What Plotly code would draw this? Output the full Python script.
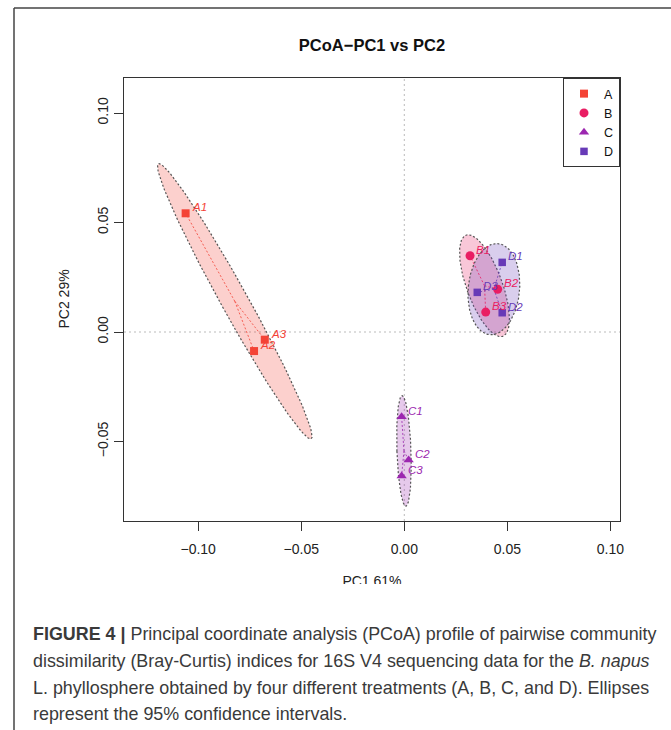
import numpy as np
import plotly.graph_objects as go

# ---------------- data ----------------
groups = ["A", "B", "C", "D"]

A_samples = ["A1", "A2", "A3"]
A_pc1 = [-0.1061, -0.0729, -0.0677]
A_pc2 = [0.0542, -0.0087, -0.0035]

B_samples = ["B1", "B2", "B3"]
B_pc1 = [0.0319, 0.0453, 0.0395]
B_pc2 = [0.0348, 0.0195, 0.0091]

C_samples = ["C1", "C2", "C3"]
C_pc1 = [-0.0013, 0.0021, -0.0013]
C_pc2 = [-0.0387, -0.0584, -0.0658]

D_samples = ["D1", "D2", "D3"]
D_pc1 = [0.0475, 0.0475, 0.0354]
D_pc2 = [0.0318, 0.0088, 0.0181]

x_ticks = [-0.10, -0.05, 0.00, 0.05, 0.10]
y_ticks = [-0.05, 0.00, 0.05, 0.10]

chart_title = "PCoA\u2212PC1 vs PC2"
x_title = "PC1 61%"
y_title = "PC2 29%"
caption_lines = [
    "<b>FIGURE 4 |</b> Principal coordinate analysis (PCoA) profile of pairwise community",
    "dissimilarity (Bray-Curtis) indices for 16S V4 sequencing data for the <i>B. napus</i>",
    "L. phyllosphere obtained by four different treatments (A, B, C, and D). Ellipses",
    "represent the 95% confidence intervals.",
]

# ---------------- styles ----------------
colors = {"A": "#F44336", "B": "#E91E63", "C": "#9C27B0", "D": "#673AB7"}
symbols = {"A": "square", "B": "circle", "C": "triangle-up", "D": "square"}
msizes = {"A": 8, "B": 9, "C": 9, "D": 7.5}
ELLIPSE_SCALE = 1.8
FONT = "Liberation Sans, Arial, sans-serif"

data = {
    "A": (A_samples, A_pc1, A_pc2),
    "B": (B_samples, B_pc1, B_pc2),
    "C": (C_samples, C_pc1, C_pc2),
    "D": (D_samples, D_pc1, D_pc2),
}

W, H = 671, 730
ML, MR, MT, MB = 124, 51, 78, 130
PLOT_BOTTOM_PX = 521


def px2x(px):
    return (px - ML) / (W - ML - MR)


def px2y(py):
    return (H - MB - py) / (H - MT - MB)


def hex_rgba(h, a):
    h = h.lstrip("#")
    return "rgba(%d,%d,%d,%.3f)" % (int(h[0:2], 16), int(h[2:4], 16), int(h[4:6], 16), a)


def ellipse_path(xs, ys, scale=ELLIPSE_SCALE, n=160):
    pts = np.column_stack([xs, ys])
    c = pts.mean(axis=0)
    cov = np.cov(pts.T)
    vals, vecs = np.linalg.eigh(cov)
    vals = np.clip(vals, 0, None)
    t = np.linspace(0, 2 * np.pi, n)
    circ = np.vstack([np.cos(t), np.sin(t)])
    e = (vecs @ np.diag(np.sqrt(vals)) @ circ) * scale
    return c[0] + e[0], c[1] + e[1]


fig = go.Figure()

# ellipses
for g in groups:
    _, xs, ys = data[g]
    ex, ey = ellipse_path(xs, ys)
    fig.add_trace(go.Scatter(
        x=ex, y=ey, mode="lines", fill="toself",
        fillcolor=hex_rgba(colors[g], 0.25),
        line=dict(color="#555555", width=1.2, dash="2px,2px"),
        hoverinfo="skip", showlegend=False))

# spiders (centroid to each sample)
for g in groups:
    _, xs, ys = data[g]
    cx, cy = float(np.mean(xs)), float(np.mean(ys))
    sx, sy = [], []
    for x, y in zip(xs, ys):
        sx += [cx, x, None]
        sy += [cy, y, None]
    fig.add_trace(go.Scatter(
        x=sx, y=sy, mode="lines",
        line=dict(color=colors[g], width=1, dash="2px,2px"),
        opacity=0.8, hoverinfo="skip", showlegend=False))

# points
for g in groups:
    names, xs, ys = data[g]
    fig.add_trace(go.Scatter(
        x=xs, y=ys, mode="markers", name=g, text=names,
        marker=dict(color=colors[g], symbol=symbols[g], size=msizes[g], line=dict(width=0)),
        showlegend=True))

# sample labels
annotations = []
for g in groups:
    names, xs, ys = data[g]
    for n_, x, y in zip(names, xs, ys):
        annotations.append(dict(
            x=x, y=y, xref="x", yref="y", text="<i>%s</i>" % n_, showarrow=False,
            xanchor="left", yanchor="middle", xshift=4, yshift=6,
            font=dict(family=FONT, size=11.5, color=colors[g])))

# clipped x-axis title (reference shows it cut by the caption area)
X2_BOTTOM_PX, X2_TOP_PX = 584, 566
fig.add_trace(go.Scatter(
    x=[0.5], y=[(X2_BOTTOM_PX - 582) / (X2_BOTTOM_PX - X2_TOP_PX)], mode="text",
    text=[x_title], textposition="middle center",
    textfont=dict(family=FONT, size=14, color="#222222"),
    cliponaxis=True, xaxis="x2", yaxis="y2", hoverinfo="skip", showlegend=False))

# y-axis title
annotations.append(dict(
    x=px2x(63), y=px2y((MT + PLOT_BOTTOM_PX) / 2), xref="paper", yref="paper",
    text=y_title, textangle=-90, showarrow=False, xanchor="center", yanchor="middle",
    font=dict(family=FONT, size=14, color="#222222")))

# caption
cap_y = [634, 661, 688, 714]
for line, py in zip(caption_lines, cap_y):
    annotations.append(dict(
        x=px2x(31), y=px2y(py), xref="paper", yref="paper", text=line,
        showarrow=False, xanchor="left", yanchor="middle",
        font=dict(family=FONT, size=17.9, color="#3a3a3a")))

# ranges from pixel calibration
x_px0, x_ppu = 404.3, 2061.0
y_px0, y_ppu = 332.0, 2190.0
x_range = [(ML - x_px0) / x_ppu, (W - MR - x_px0) / x_ppu]
y_range = [(y_px0 - PLOT_BOTTOM_PX) / y_ppu, (y_px0 - MT) / y_ppu]

axis_common = dict(
    showgrid=False, zeroline=False, showline=True, mirror=True,
    linecolor="#333333", linewidth=1, ticks="outside", ticklen=9,
    tickcolor="#333333", tickwidth=1, tickformat=".2f",
    tickfont=dict(family=FONT, size=14, color="#222222"))

shapes = [
    # dotted zero lines
    dict(type="line", xref="x", yref="y domain", x0=0, x1=0, y0=0, y1=1,
         line=dict(color="#BBBBBB", width=1, dash="2px,3px"), layer="below"),
    dict(type="line", xref="x domain", yref="y", x0=0, x1=1, y0=0, y1=0,
         line=dict(color="#BBBBBB", width=1, dash="2px,3px"), layer="below"),
    # outer figure frame
    dict(type="line", xref="paper", yref="paper", x0=px2x(14), x1=px2x(14),
         y0=px2y(731), y1=px2y(8), line=dict(color="#444444", width=1.5)),
    dict(type="line", xref="paper", yref="paper", x0=px2x(14), x1=px2x(672),
         y0=px2y(8), y1=px2y(8), line=dict(color="#444444", width=1.5)),
]

fig.update_layout(
    width=W, height=H,
    margin=dict(l=ML, r=MR, t=MT, b=MB, pad=0),
    paper_bgcolor="white", plot_bgcolor="white",
    font=dict(family=FONT, color="#222222"),
    title=dict(text="<b>%s</b>" % chart_title, x=0.5, xref="paper", xanchor="center",
               y=1 - 45 / H, yref="container", yanchor="middle",
               font=dict(family=FONT, size=16.5, color="#111111")),
    xaxis=dict(domain=[0, 1], anchor="y", range=x_range, tickvals=x_ticks,
               ticklabelstandoff=6, **axis_common),
    yaxis=dict(domain=[px2y(PLOT_BOTTOM_PX), 1], anchor="x", range=y_range,
               tickvals=y_ticks, tickangle=-90, ticklabelstandoff=0, **axis_common),
    xaxis2=dict(domain=[0, 1], anchor="y2", range=[0, 1], visible=False),
    yaxis2=dict(domain=[px2y(X2_BOTTOM_PX), px2y(X2_TOP_PX)], anchor="x2",
                range=[0, 1], visible=False),
    legend=dict(x=1, y=1, xref="paper", yref="paper", xanchor="right", yanchor="top",
                bordercolor="#333333", borderwidth=1, bgcolor="white",
                font=dict(family=FONT, size=12.5, color="#111111"),
                itemwidth=30, tracegroupgap=0),
    annotations=annotations,
    shapes=shapes,
    showlegend=True,
)

fig.write_html(
    "out.html",
    config={"displayModeBar": False},
    post_script="document.body.style.margin='0';document.body.style.overflow='hidden';",
)
